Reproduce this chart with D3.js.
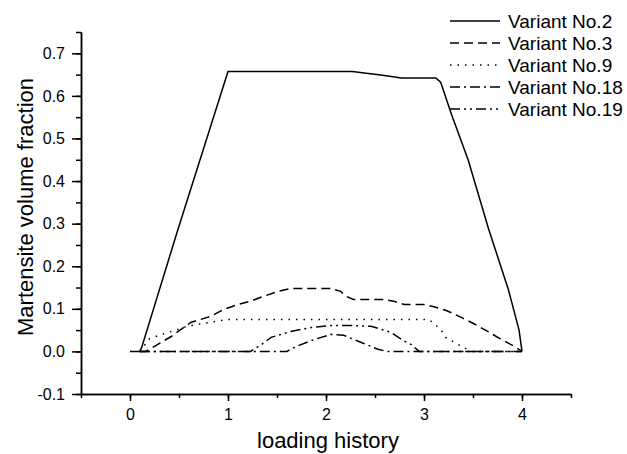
<!DOCTYPE html>
<meta charset="utf-8" />
<title>Martensite volume fraction vs loading history</title>
<style>
  body { margin: 0; background: #fff; }
  svg { display: block; }
  text { font-family: Arial, "Liberation Sans", sans-serif; fill: #000; }
  .axis path, .axis line { stroke: #000; stroke-width: 1.5px; }
  .series { fill: none; stroke: #000; stroke-width: 1.5px; }
</style>
<body>
<svg width="627" height="454"></svg>
<script src="https://d3js.org/d3.v7.min.js"></script>
<script>
  // data
  const xTicks = [0, 1, 2, 3, 4];
  const yTicks = [-0.1, 0.0, 0.1, 0.2, 0.3, 0.4, 0.5, 0.6, 0.7];

  const variant2X = [0, 0.1, 0.12, 0.49, 1.0, 2.27, 2.39, 2.56, 2.77, 3.12, 3.17, 3.28, 3.45, 3.66, 3.86, 3.97, 4.0];
  const variant2Y = [0, 0, 0.01, 0.287, 0.657, 0.657, 0.654, 0.649, 0.642, 0.642, 0.632, 0.557, 0.45, 0.287, 0.146, 0.05, 0];

  const variant3X = [0.1, 0.16, 0.28, 0.42, 0.62, 0.83, 0.96, 1.10, 1.23, 1.37, 1.51, 1.64, 2.05, 2.15, 2.2, 2.28, 2.59, 2.69, 2.8, 3.0, 3.1, 3.24, 3.38, 3.51, 3.65, 3.79, 3.92, 4.0];
  const variant3Y = [0, 0, 0.016, 0.035, 0.068, 0.083, 0.099, 0.11, 0.118, 0.13, 0.141, 0.148, 0.148, 0.141, 0.13, 0.122, 0.122, 0.118, 0.11, 0.11, 0.105, 0.095, 0.08, 0.065, 0.047, 0.028, 0.012, 0];

  const variant9X = [0.1, 0.2, 0.3, 0.6, 1.0, 3.05, 3.17, 3.22, 3.38, 3.48, 4.0];
  const variant9Y = [0, 0.03, 0.038, 0.06, 0.075, 0.075, 0.052, 0.033, 0.012, 0, 0];

  const variant18X = [0.1, 1.6, 1.7, 1.88, 2.05, 2.18, 2.36, 2.53, 2.62, 4.0];
  const variant18Y = [0, 0, 0.012, 0.028, 0.04, 0.038, 0.021, 0.005, 0, 0];

  const variant19X = [0.1, 1.23, 1.34, 1.44, 1.64, 1.85, 2.05, 2.26, 2.46, 2.66, 2.8, 2.87, 2.95, 4.0];
  const variant19Y = [0, 0, 0.016, 0.033, 0.047, 0.056, 0.061, 0.061, 0.059, 0.045, 0.024, 0.016, 0, 0];

  const seriesNames = ["Variant No.2", "Variant No.3", "Variant No.9", "Variant No.18", "Variant No.19"];

  const svg = d3.select("svg");
  const margin = { top: 32, right: 56, bottom: 60, left: 81 };
  const width = 627, height = 454;

  const x = d3.scaleLinear().domain([-0.5, 4.5]).range([margin.left, width - margin.right]);
  const y = d3.scaleLinear().domain([-0.1, 0.75]).range([height - margin.bottom, margin.top]);

  // dash styles per series
  const dashes = [null, "9,5", "1.5,6", "10,4,2,4", "10,4,2,4,2,4"];

  const series = [
    d3.zip(variant2X, variant2Y),
    d3.zip(variant3X, variant3Y),
    d3.zip(variant9X, variant9Y),
    d3.zip(variant18X, variant18Y),
    d3.zip(variant19X, variant19Y)
  ];

  // x axis: minor ticks in their own group, then major ticks + line
  svg.append("g").attr("class", "axis")
    .attr("transform", `translate(0,${y(-0.1)})`)
    .call(d3.axisBottom(x).tickValues(d3.range(-0.5, 4.51, 0.5)).tickSize(4).tickSizeOuter(0).tickFormat(""));
  svg.append("g").attr("class", "axis")
    .attr("transform", `translate(0,${y(-0.1)})`)
    .call(d3.axisBottom(x).tickValues(xTicks).tickSize(7).tickSizeOuter(0).tickPadding(8).tickFormat(d3.format("d")))
    .selectAll("text").style("font-size", "16px");

  // y axis
  svg.append("g").attr("class", "axis")
    .attr("transform", `translate(${x(-0.5)},0)`)
    .call(d3.axisLeft(y).tickValues(d3.range(-0.1, 0.751, 0.05)).tickSize(5).tickSizeOuter(0).tickFormat(""));
  svg.append("g").attr("class", "axis")
    .attr("transform", `translate(${x(-0.5)},0)`)
    .call(d3.axisLeft(y).tickValues(yTicks).tickSize(9).tickSizeOuter(0).tickPadding(7).tickFormat(d => d.toFixed(1)))
    .selectAll("text").style("font-size", "16px");

  // axis titles
  svg.append("text")
    .attr("x", x(2.02)).attr("y", 448)
    .attr("text-anchor", "middle")
    .style("font-size", "22px")
    .text("loading history");

  svg.append("text")
    .attr("transform", "translate(33,207) rotate(-90)")
    .attr("text-anchor", "middle")
    .style("font-size", "22px")
    .text("Martensite volume fraction");

  // lines
  const line = d3.line().x(d => x(d[0])).y(d => y(d[1]));
  svg.append("g").selectAll("path")
    .data(series)
    .join("path")
    .attr("class", "series")
    .attr("stroke-dasharray", (d, i) => dashes[i])
    .attr("d", line);

  // legend
  const legend = svg.append("g").attr("transform", "translate(450,21)");
  const rows = legend.selectAll("g").data(seriesNames).join("g")
    .attr("transform", (d, i) => `translate(0,${i * 22})`);
  rows.append("line")
    .attr("class", "series")
    .attr("x1", 0).attr("x2", 50).attr("y1", 0).attr("y2", 0)
    .attr("stroke-dasharray", (d, i) => dashes[i]);
  rows.append("text")
    .attr("x", 58).attr("dy", "0.35em")
    .style("font-size", "19px")
    .text(d => d);
</script>
</body>
